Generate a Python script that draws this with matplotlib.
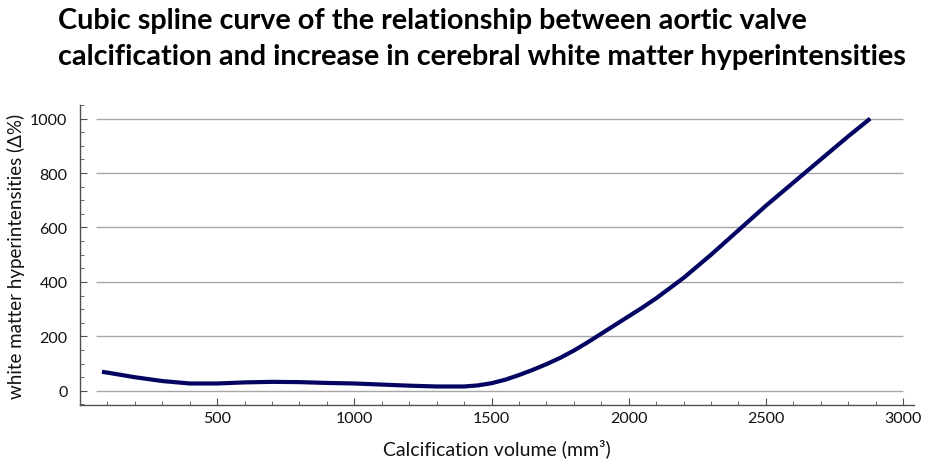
import matplotlib
matplotlib.use("Agg")
import matplotlib.pyplot as plt
from matplotlib.ticker import MultipleLocator

# spline estimate: calcification volume (mm3) vs WMH increase (%)
volume = [80, 100, 200, 300, 400, 500, 600, 700, 800, 900, 1000, 1100, 1200,
          1300, 1400, 1450, 1500, 1550, 1600, 1650, 1700, 1750, 1800, 1850,
          1900, 1950, 2000, 2050, 2100, 2200, 2300, 2400, 2500, 2600, 2700,
          2800, 2880]
wmh_delta = [70, 67, 50, 36, 27, 27, 31, 33, 32, 29, 27, 23, 19,
             16, 16, 20, 28, 41, 58, 77, 98, 121, 148, 178,
             210, 242, 274, 306, 340, 415, 500, 590, 680, 765, 850,
             935, 1000]

x_ticks = [500, 1000, 1500, 2000, 2500, 3000]
y_ticks = [0, 200, 400, 600, 800, 1000]

TITLE = ("Cubic spline curve of the relationship between aortic valve\n"
         "calcification and increase in cerebral white matter hyperintensities")
FONT = ["Lato", "DejaVu Sans"]

plt.rcParams["font.family"] = FONT

fig = plt.figure(figsize=(9.32, 4.6), dpi=100)
ax = fig.add_axes([0.0858, 0.1174, 0.895, 0.6522])

# horizontal reference lines
ax.hlines(y_ticks, 60, 3000, color="#a6a6a6", lw=1.0, zorder=1)

ax.plot(volume, wmh_delta, color="#040462", lw=3.0, solid_capstyle="butt", zorder=3)

ax.set_xlim(0, 3040)
ax.set_ylim(-52, 1050)
ax.set_xticks(x_ticks)
ax.set_yticks(y_ticks)
ax.xaxis.set_minor_locator(MultipleLocator(100))
ax.yaxis.set_minor_locator(MultipleLocator(50))

for side in ("top", "right"):
    ax.spines[side].set_visible(False)
for side in ("left", "bottom"):
    ax.spines[side].set_color("#505050")
    ax.spines[side].set_linewidth(1.0)

ax.tick_params(which="major", direction="in", length=5, width=0.8,
               color="#505050", labelsize=11.5, labelcolor="#111111")
ax.tick_params(which="minor", direction="in", length=3, width=0.6, color="#505050")
ax.tick_params(axis="y", pad=9)
ax.tick_params(axis="x", pad=4)

ax.set_xlabel("Calcification volume (mm³)", fontsize=14, labelpad=10, color="#111111")
ax.set_ylabel("white matter hyperintensities (Δ%)", fontsize=13.5, labelpad=4, color="#111111")

fig.text(0.062, 0.982, TITLE, ha="left", va="top", fontsize=20.7,
         fontweight="bold", linespacing=1.45, color="black")

fig.savefig("out.png", dpi=100, facecolor="white")
